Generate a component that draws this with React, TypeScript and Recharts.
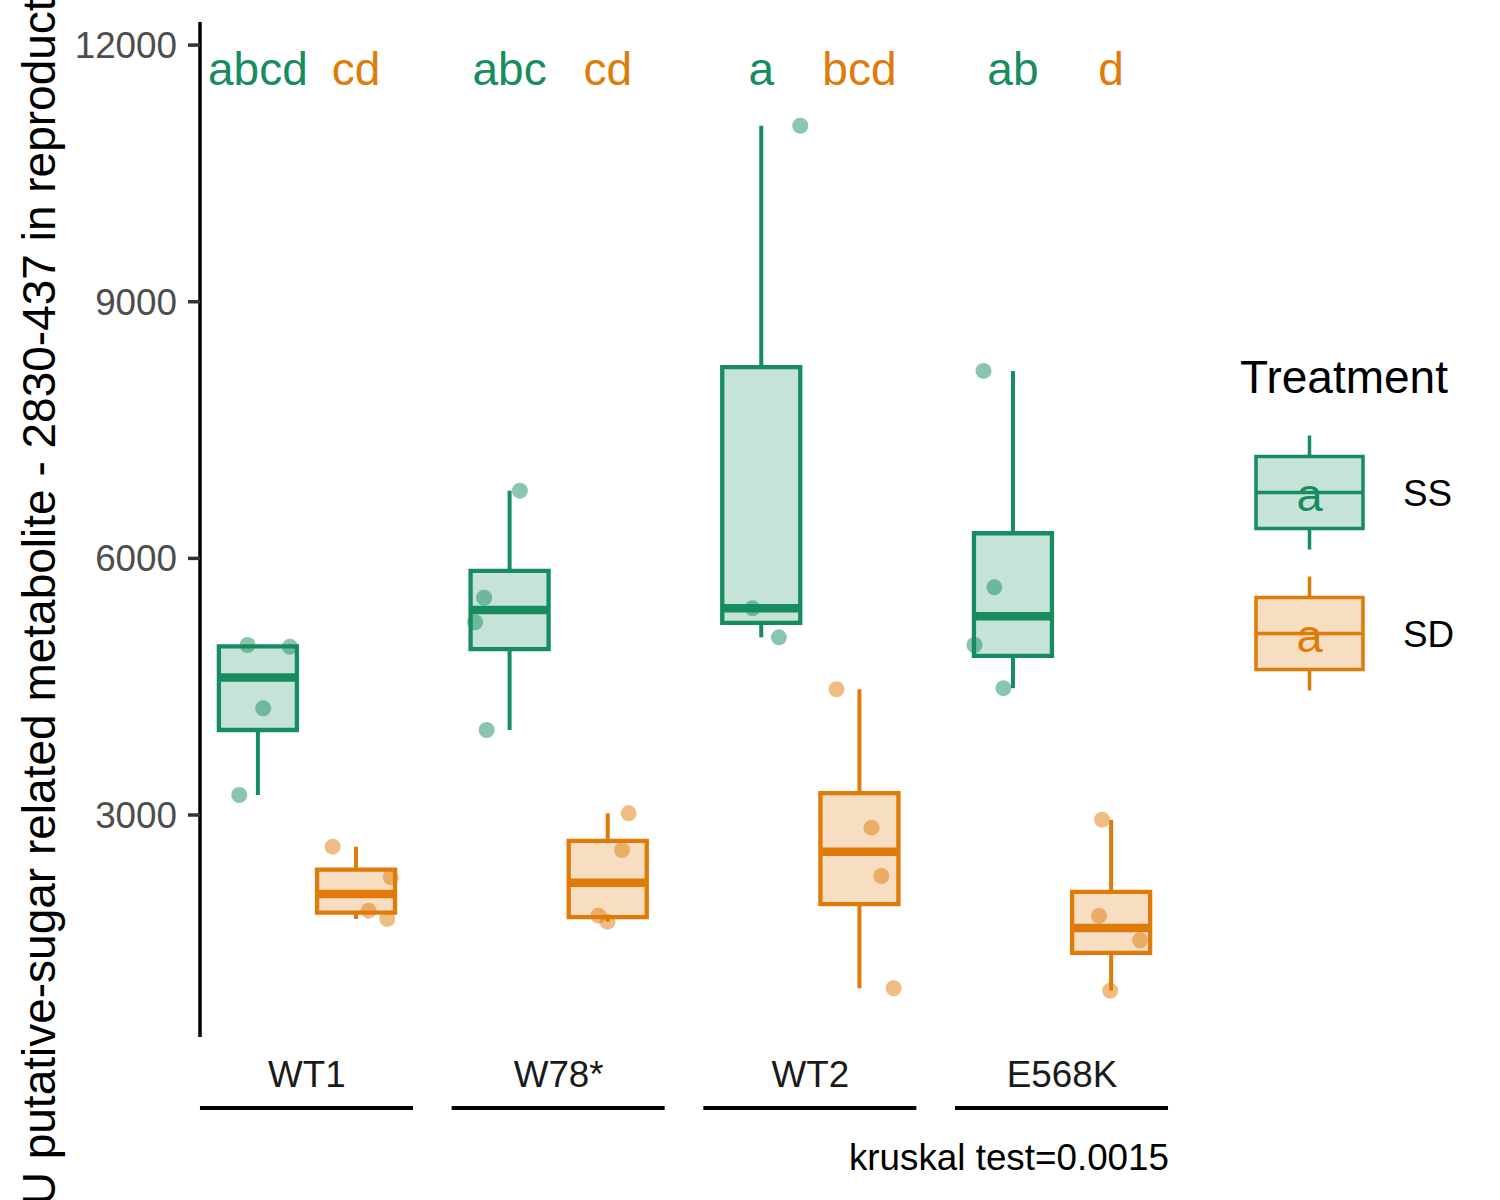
import React from 'react';
import { ComposedChart, XAxis, YAxis, Scatter, ReferenceArea, ReferenceLine, Legend } from 'recharts';

const GREEN = '#168C5F';
const ORANGE = '#E07B09';
const GREEN_FILL = '#C5E3D8';
const ORANGE_FILL = '#F7DEC2';
const FONT = '"Liberation Sans", Arial, Helvetica, sans-serif';
const SMALL = 36.8;
const BIG = 46;

// Categories
const groups = ['WT1', 'W78*', 'WT2', 'E568K'];
const treatments = ['SS', 'SD'];

const ssValues = [
  [4987, 4967, 4247, 3234],
  [6791, 5540, 5253, 3994],
  [11057, 5416, 5077],
  [8191, 5661, 4987, 4483],
];
const sdValues = [
  [2630, 2272, 1882, 1785],
  [3020, 2591, 1823, 1753],
  [4470, 2852, 2287, 975],
  [2945, 1820, 1536, 947],
];
// Horizontal jitter of each point (in category units)
const ssJitter = [
  [-0.041, 0.127, 0.021, -0.074],
  [0.041, -0.101, -0.137, -0.091],
  [0.155, -0.035, 0.07],
  [-0.117, -0.074, -0.153, -0.038],
];
const sdJitter = [
  [-0.093, 0.138, 0.05, 0.124],
  [0.083, 0.057, -0.037, -0.001],
  [-0.091, 0.048, 0.087, 0.136],
  [-0.036, -0.048, 0.115, -0.004],
];
// Compact letter display
const ssLetters = ['abcd', 'abc', 'a', 'ab'];
const sdLetters = ['cd', 'cd', 'bcd', 'd'];
const letterY = 11730;
const yTicks = [3000, 6000, 9000, 12000];
const kruskalText = 'kruskal test=0.0015';
const yTitle = 'AU putative-sugar related metabolite - 2830-437 in reproductive tissues';

const DODGE = 0.195;
const BOX_W = 0.31;

function quantile(sorted: number[], p: number) {
  const h = (sorted.length - 1) * p;
  const lo = Math.floor(h);
  const hi = Math.min(lo + 1, sorted.length - 1);
  return sorted[lo] + (h - lo) * (sorted[hi] - sorted[lo]);
}
function boxStats(vals: number[]) {
  const s = [...vals].sort((a, b) => a - b);
  const q1 = quantile(s, 0.25);
  const med = quantile(s, 0.5);
  const q3 = quantile(s, 0.75);
  const iqr = q3 - q1;
  const lo = Math.min(...s.filter((v) => v >= q1 - 1.5 * iqr));
  const hi = Math.max(...s.filter((v) => v <= q3 + 1.5 * iqr));
  return { q1, med, q3, lo, hi };
}

const series = [
  { name: treatments[0], values: ssValues, jitter: ssJitter, letters: ssLetters, color: GREEN, fill: GREEN_FILL, off: -DODGE },
  { name: treatments[1], values: sdValues, jitter: sdJitter, letters: sdLetters, color: ORANGE, fill: ORANGE_FILL, off: DODGE },
];

const boxes = series.flatMap((s) =>
  s.values.map((vals, gi) => ({ x: gi + 1 + s.off, color: s.color, fill: s.fill, ...boxStats(vals) }))
);
const pointData = series.map((s) =>
  s.values.flatMap((vals, gi) => vals.map((v, k) => ({ x: gi + 1 + s.off + s.jitter[gi][k], y: v })))
);
const letterData = series.map((s) =>
  s.letters.map((l, gi) => ({ x: gi + 1 + s.off, y: letterY, label: l }))
);

const GroupTick = (props: any) => {
  const { x, y, payload } = props;
  const name = groups[Math.round(payload.value) - 1];
  return (
    <g>
      <text x={x} y={y + 50} textAnchor="middle" fontSize={SMALL} fill="#1a1a1a" fontFamily={FONT}>
        {name}
      </text>
      <line x1={x - 107} x2={x + 106} y1={y + 71} y2={y + 71} stroke="#000" strokeWidth={4} />
    </g>
  );
};

const renderLegend = (props: any) => {
  const names = (props.payload || []).map((p: any) => p.value);
  const shown = series.filter((s) => names.includes(s.name));
  return (
    <svg width={1500} height={1200} style={{ position: 'absolute', left: 0, top: 0, overflow: 'visible', pointerEvents: 'none' }}>
      <text x={1240} y={393} fontSize={BIG} fill="#000" fontFamily={FONT}>Treatment</text>
      {shown.map((s, i) => {
        const cy = 492.5 + i * 141;
        return (
          <g key={s.name}>
            <line x1={1309.5} x2={1309.5} y1={cy - 57} y2={cy + 57} stroke={s.color} strokeWidth={3.5} />
            <rect x={1256} y={cy - 36} width={107} height={72} fill={s.fill} stroke={s.color} strokeWidth={3.5} />
            <line x1={1256} x2={1363} y1={cy} y2={cy} stroke={s.color} strokeWidth={3.5} />
            <text x={1309.5} y={cy + 18} textAnchor="middle" fontSize={47} fill={s.color} fontFamily={FONT}>a</text>
            <text x={1403} y={cy + 13} fontSize={SMALL} fill="#000" fontFamily={FONT}>{s.name}</text>
          </g>
        );
      })}
    </svg>
  );
};

export default function App() {
  return (
    <div style={{ position: 'absolute', left: 0, top: 0, width: 1500, height: 1200, background: '#fff', overflow: 'hidden' }}>
      <ComposedChart
        width={1500}
        height={1200}
        margin={{ top: 22, right: 331, bottom: 0, left: 0 }}
        style={{ fontFamily: FONT }}
      >
        <XAxis
          type="number"
          dataKey="x"
          domain={[0.575, 4.425]}
          ticks={[1, 2, 3, 4]}
          interval={0}
          allowDataOverflow
          axisLine={false}
          tickLine={false}
          tickSize={0}
          tickMargin={0}
          height={163}
          tick={<GroupTick />}
          label={{
            content: (lp: any) => {
              const vb = lp.viewBox || { x: 200, y: 1037, width: 969 };
              return (
                <text x={vb.x + vb.width} y={vb.y + 133} textAnchor="end" fontSize={SMALL} fill="#000" fontFamily={FONT}>
                  {kruskalText}
                </text>
              );
            },
          }}
        />
        <YAxis
          type="number"
          dataKey="y"
          domain={[405, 12270]}
          ticks={yTicks}
          interval={0}
          allowDataOverflow
          width={200}
          tickSize={12}
          tickMargin={11}
          axisLine={{ stroke: '#000', strokeWidth: 3.5 }}
          tickLine={{ stroke: '#333', strokeWidth: 3.5 }}
          tick={{ fill: '#4D4D4D', fontSize: SMALL, fontFamily: FONT }}
          label={{
            content: (lp: any) => {
              const vb = lp.viewBox || { x: 0, y: 22, width: 200, height: 1015 };
              const startY = vb.y + vb.height + 199;
              return (
                <text transform={`translate(55, ${startY}) rotate(-90)`} textAnchor="start" fontSize={BIG} fill="#000" fontFamily={FONT}>
                  {yTitle}
                </text>
              );
            },
          }}
        />
        {boxes.map((b, i) => (
          <ReferenceLine
            key={`wu${i}`}
            segment={[{ x: b.x, y: b.q3 }, { x: b.x, y: b.hi }]}
            stroke={b.color}
            strokeWidth={4}
          />
        ))}
        {boxes.map((b, i) => (
          <ReferenceLine
            key={`wl${i}`}
            segment={[{ x: b.x, y: b.lo }, { x: b.x, y: b.q1 }]}
            stroke={b.color}
            strokeWidth={4}
          />
        ))}
        {boxes.map((b, i) => (
          <ReferenceArea
            key={`bx${i}`}
            x1={b.x - BOX_W / 2}
            x2={b.x + BOX_W / 2}
            y1={b.q1}
            y2={b.q3}
            fill={b.fill}
            fillOpacity={1}
            stroke={b.color}
            strokeWidth={4.3}
          />
        ))}
        {boxes.map((b, i) => (
          <ReferenceLine
            key={`md${i}`}
            segment={[{ x: b.x - BOX_W / 2, y: b.med }, { x: b.x + BOX_W / 2, y: b.med }]}
            stroke={b.color}
            strokeWidth={8.5}
          />
        ))}
        {series.map((s, si) => (
          <Scatter
            key={`pt${s.name}`}
            name={s.name}
            data={pointData[si]}
            fill={s.color}
            isAnimationActive={false}
            shape={(p: any) => <circle cx={p.cx} cy={p.cy} r={8} fill={s.color} fillOpacity={0.5} />}
          />
        ))}
        {series.map((s, si) => (
          <Scatter
            key={`lt${s.name}`}
            name={`${s.name}-letters`}
            data={letterData[si]}
            legendType="none"
            isAnimationActive={false}
            shape={(p: any) => (
              <text x={p.cx} y={p.cy} dy={17} textAnchor="middle" fontSize={BIG} fill={s.color} fontFamily={FONT}>
                {p.payload.label}
              </text>
            )}
          />
        ))}
        <Legend
          content={renderLegend}
          wrapperStyle={{ position: 'absolute', left: 0, top: 0, width: 0, height: 0, overflow: 'visible' }}
        />
      </ComposedChart>
    </div>
  );
}
